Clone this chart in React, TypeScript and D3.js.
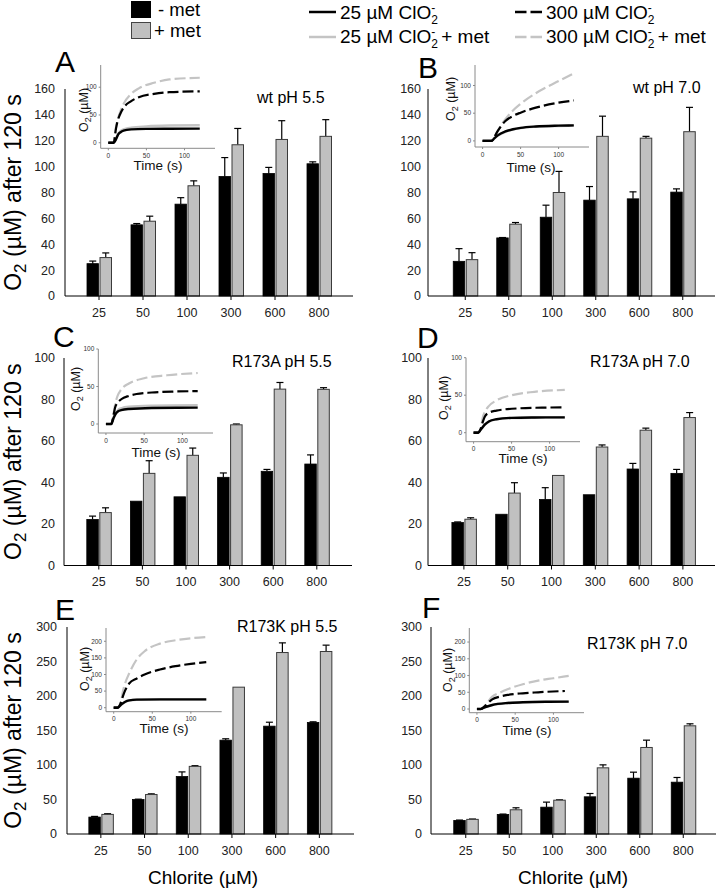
import React from "react";
import * as d3 from "d3";

type Pt = [number, number];

const FONT = "'Liberation Sans', Arial, Helvetica, sans-serif";

// ---------- data ----------
const categories = ["25", "50", "100", "300", "600", "800"];

// Panel A: wt pH 5.5
const aMinus = [25, 55, 71, 92.4, 94.7, 102.2];
const aMinusErr = [2, 1, 5, 14.6, 4.7, 1.5];
const aPlus = [29.7, 57.8, 85.2, 116.9, 121, 123.4];
const aPlusErr = [3.6, 3.9, 3.8, 12.6, 14.5, 12.9];
// Panel B: wt pH 7.0
const bMinus = [26.8, 44.9, 60.9, 74.1, 75.1, 80.3];
const bMinusErr = [9.8, 0.3, 9.3, 10.5, 5.4, 2.5];
const bPlus = [28.1, 55.5, 80, 123.4, 122, 127];
const bPlusErr = [5.4, 1.3, 16.3, 15.6, 1.4, 18.8];
// Panel C: R173A pH 5.5
const cMinus = [22.2, 31, 33.1, 42.5, 45.4, 48.9];
const cMinusErr = [1.6, 0.2, 0, 2.1, 0.9, 4.4];
const cPlus = [25.5, 44.4, 53.1, 67.8, 85, 84.9];
const cPlusErr = [2.3, 6.1, 3.5, 0.4, 3.2, 0.8];
// Panel D: R173A pH 7.0
const dMinus = [20.7, 24.7, 31.8, 34.1, 46.5, 44.4];
const dMinusErr = [0.3, 0, 5.7, 0, 2.7, 1.9];
const dPlus = [22.3, 34.9, 43.4, 57.1, 65.2, 71.3];
const dPlusErr = [0.7, 5, 0, 1, 1, 2.4];
// Panel E: R173K pH 5.5
const eMinus = [24.5, 50, 83.3, 136, 156.3, 161.6];
const eMinusErr = [1, 0.5, 6.7, 2, 5.7, 1];
const ePlus = [28.4, 57.2, 98, 212.8, 263, 264.5];
const ePlusErr = [1, 1, 1, 0, 14, 9.2];
// Panel F: R173K pH 7.0
const fMinus = [19.7, 28.4, 38.9, 53.9, 80.9, 75.1];
const fMinusErr = [0.5, 0.5, 7.3, 4.8, 8.7, 6.8];
const fPlus = [21.2, 35.1, 49, 95.9, 125.4, 156.8];
const fPlusErr = [0.5, 2.9, 0.5, 4.3, 10.6, 2.9];

const yTicksAB = [0, 20, 40, 60, 80, 100, 120, 140, 160];
const yTicksCD = [0, 20, 40, 60, 80, 100];
const yTicksEF = [0, 50, 100, 150, 200, 250, 300];

const insetXTicks = [0, 50, 100];
const insetYTicksSmall = [0, 50, 100];
const insetYTicksLarge = [0, 50, 100, 150, 200];

// inset time courses: [time (s), O2 (µM)]
const insA25: Pt[] = [[0, 0], [7, 0], [10, 6], [13, 15], [16, 19], [20, 22], [30, 24], [50, 25], [80, 25.3], [120, 25.5]];
const insA25met: Pt[] = [[0, 0], [7, 0], [10, 7], [13, 16], [16, 21], [20, 24], [30, 27], [50, 29.5], [80, 31], [120, 31.5]];
const insA300: Pt[] = [[0, 0], [7, 0], [10, 25], [12, 38], [15, 50], [20, 63], [30, 75], [40, 82], [60, 88], [80, 91], [120, 92.5]];
const insA300met: Pt[] = [[0, 0], [7, 0], [10, 28], [13, 45], [16, 57], [20, 70], [30, 88], [40, 98], [60, 108], [80, 114], [120, 117]];

const insB25: Pt[] = [[0, 0], [12, 0], [15, 4], [20, 10], [30, 17], [40, 21], [50, 23.5], [70, 26], [100, 27.5], [120, 28]];
const insB25met: Pt[] = [[0, 0], [12, 0], [15, 4], [20, 9.5], [30, 16.5], [40, 20.5], [50, 23], [70, 25.5], [100, 27], [120, 27.5]];
const insB300: Pt[] = [[0, 0], [12, 0], [15, 6], [20, 18], [25, 28], [30, 36], [40, 45], [50, 51], [70, 60], [100, 69], [120, 73]];
const insB300met: Pt[] = [[0, 0], [12, 0], [15, 6], [20, 18], [25, 30], [30, 39], [40, 55], [50, 67], [70, 86], [100, 108], [120, 122]];

const insC25: Pt[] = [[0, 0], [7, 0], [10, 8], [13, 14], [16, 17], [20, 18.5], [30, 20], [60, 21.3], [120, 21.8]];
const insC25met: Pt[] = [[0, 0], [7, 0], [10, 9], [13, 15], [16, 19], [20, 21], [30, 23], [60, 24.3], [120, 25]];
const insC300: Pt[] = [[0, 0], [7, 0], [10, 12], [12, 22], [15, 28], [20, 33], [30, 37.5], [40, 40], [60, 42], [90, 43.3], [120, 43.8]];
const insC300met: Pt[] = [[0, 0], [7, 0], [10, 14], [12, 26], [15, 37], [20, 46], [30, 54], [50, 61], [80, 65], [120, 68]];

const insD25: Pt[] = [[0, 0], [6, 0], [10, 5], [15, 11], [20, 15], [30, 18], [50, 19.8], [80, 20.3], [120, 20.5]];
const insD25met: Pt[] = [[0, 0], [6, 0], [10, 5], [15, 10.8], [20, 14.8], [30, 17.7], [50, 19.5], [80, 20], [120, 20.2]];
const insD300: Pt[] = [[0, 0], [6, 0], [10, 7], [12, 14], [15, 22], [20, 26.5], [30, 29.5], [40, 31], [60, 32.5], [90, 33.4], [120, 33.8]];
const insD300met: Pt[] = [[0, 0], [6, 0], [10, 8], [12, 20], [15, 28], [20, 35.5], [30, 43], [50, 50], [80, 54.5], [120, 57]];

const insE25: Pt[] = [[0, 0], [5, 0], [10, 10], [15, 18], [20, 22], [30, 24.5], [60, 25], [120, 25]];
const insE25met: Pt[] = [[0, 0], [5, 0], [10, 9.5], [15, 17.5], [20, 21.5], [30, 24], [60, 24.5], [120, 24.5]];
const insE300: Pt[] = [[0, 0], [5, 0], [10, 20], [12, 35], [15, 53], [20, 73], [30, 88], [40, 100], [60, 115], [80, 125], [100, 132], [120, 137]];
const insE300met: Pt[] = [[0, 0], [5, 0], [10, 25], [12, 50], [15, 75], [20, 103], [30, 146], [40, 170], [60, 193], [80, 203], [100, 209], [120, 213]];

const insF25: Pt[] = [[0, 0], [5, 0], [10, 5], [20, 12], [40, 18], [60, 20], [90, 21.5], [120, 22]];
const insF25met: Pt[] = [[0, 0], [5, 0], [10, 4.8], [20, 11.7], [40, 17.7], [60, 19.7], [90, 21.2], [120, 21.7]];
const insF300: Pt[] = [[0, 0], [5, 0], [10, 8], [20, 29], [30, 37], [40, 42], [60, 47], [80, 50], [115, 54]];
const insF300met: Pt[] = [[0, 0], [5, 0], [10, 9], [20, 37], [30, 49], [40, 59], [60, 74], [80, 85], [100, 92], [120, 99]];

// ---------- layout ----------
interface Layout {
  axisX: number; bandStart: number; step: number; axisEnd: number;
  y0: number; y1: number; labelRight: number;
  letter: { x: number; y: number }; title: { x: number; y: number };
  inset: { x0: number; x1: number; yt: number; yb: number; o2x: number; o2y: number; tx: number; ty: number };
}

const panels = [
  {
    letter: "A", title: "wt pH 5.5", minus: aMinus, minusErr: aMinusErr, plus: aPlus, plusErr: aPlusErr,
    yMax: 160, yTicks: yTicksAB, insYDomain: [-10, 140], insYTicks: insetYTicksSmall,
    curves: [insA25, insA25met, insA300, insA300met],
    layout: {
      axisX: 65, bandStart: 77, step: 44, axisEnd: 353, y0: 296, y1: 89, labelRight: 55,
      letter: { x: 55, y: 72 }, title: { x: 257, y: 103 },
      inset: { x0: 100.7, x1: 215, yt: 65, yb: 148.3, o2x: 88, o2y: 110, tx: 158, ty: 170 },
    },
  },
  {
    letter: "B", title: "wt pH 7.0", minus: bMinus, minusErr: bMinusErr, plus: bPlus, plusErr: bPlusErr,
    yMax: 160, yTicks: yTicksAB, insYDomain: [-11, 137], insYTicks: insetYTicksSmall,
    curves: [insB25, insB25met, insB300, insB300met],
    layout: {
      axisX: 428, bandStart: 443.5, step: 43.5, axisEnd: 715, y0: 296, y1: 89, labelRight: 421,
      letter: { x: 418, y: 78 }, title: { x: 633, y: 93 },
      inset: { x0: 475, x1: 589, yt: 65, yb: 147, o2x: 455, o2y: 99, tx: 531, ty: 172 },
    },
  },
  {
    letter: "C", title: "R173A pH 5.5", minus: cMinus, minusErr: cMinusErr, plus: cPlus, plusErr: cPlusErr,
    yMax: 100, yTicks: yTicksCD, insYDomain: [-12, 100], insYTicks: insetYTicksSmall,
    curves: [insC25, insC25met, insC300, insC300met],
    layout: {
      axisX: 64, bandStart: 77, step: 43.6, axisEnd: 352, y0: 565.5, y1: 358, labelRight: 55,
      letter: { x: 53, y: 347 }, title: { x: 232, y: 367 },
      inset: { x0: 98.3, x1: 213, yt: 349, yb: 433, o2x: 80, o2y: 389, tx: 156, ty: 457 },
    },
  },
  {
    letter: "D", title: "R173A pH 7.0", minus: dMinus, minusErr: dMinusErr, plus: dPlus, plusErr: dPlusErr,
    yMax: 100, yTicks: yTicksCD, insYDomain: [-12, 100], insYTicks: insetYTicksSmall,
    curves: [insD25, insD25met, insD300, insD300met],
    layout: {
      axisX: 428, bandStart: 442, step: 43.8, axisEnd: 715, y0: 565.5, y1: 358, labelRight: 422,
      letter: { x: 417, y: 348 }, title: { x: 590, y: 367 },
      inset: { x0: 466, x1: 580, yt: 357.7, yb: 441.7, o2x: 448, o2y: 398, tx: 523, ty: 463 },
    },
  },
  {
    letter: "E", title: "R173K pH 5.5", minus: eMinus, minusErr: eMinusErr, plus: ePlus, plusErr: ePlusErr,
    yMax: 300, yTicks: yTicksEF, insYDomain: [-12, 240], insYTicks: insetYTicksLarge,
    curves: [insE25, insE25met, insE300, insE300met],
    layout: {
      axisX: 67, bandStart: 79, step: 43.7, axisEnd: 354, y0: 834, y1: 627, labelRight: 57,
      letter: { x: 55, y: 620 }, title: { x: 237, y: 632 },
      inset: { x0: 106, x1: 221.7, yt: 628, yb: 711.7, o2x: 89, o2y: 669, tx: 164, ty: 733 },
    },
  },
  {
    letter: "F", title: "R173K pH 7.0", minus: fMinus, minusErr: fMinusErr, plus: fPlus, plusErr: fPlusErr,
    yMax: 300, yTicks: yTicksEF, insYDomain: [-11, 242], insYTicks: insetYTicksLarge,
    curves: [insF25, insF25met, insF300, insF300met],
    layout: {
      axisX: 431, bandStart: 444, step: 43.5, axisEnd: 716, y0: 834, y1: 627, labelRight: 422,
      letter: { x: 422, y: 618 }, title: { x: 587, y: 649 },
      inset: { x0: 469.3, x1: 584, yt: 628, yb: 712.7, o2x: 452, o2y: 670, tx: 527, ty: 735 },
    },
  },
];

const GRAY_BAR = "#c0c0c0";
const GRAY_LINE = "#c4c4c4";

function Inset({ L, yDomain, yTicks, curves }: { L: Layout["inset"]; yDomain: number[]; yTicks: number[]; curves: Pt[][] }) {
  const x = d3.scaleLinear().domain([-10, 140]).range([L.x0, L.x1]);
  const y = d3.scaleLinear().domain(yDomain).range([L.yb, L.yt]);
  const line = d3.line<Pt>().x((d) => x(d[0])).y((d) => y(d[1])).curve(d3.curveMonotoneX);
  const [c25, c25m, c300, c300m] = curves;
  return (
    <g>
      <path d={line(c300m) || ""} fill="none" stroke={GRAY_LINE} strokeWidth={2.2} strokeDasharray="11,4" />
      <path d={line(c25m) || ""} fill="none" stroke={GRAY_LINE} strokeWidth={2.4} />
      <path d={line(c300) || ""} fill="none" stroke="#000" strokeWidth={2.2} strokeDasharray="11,4" />
      <path d={line(c25) || ""} fill="none" stroke="#000" strokeWidth={2.4} />
      <line x1={L.x0} x2={L.x0} y1={L.yt} y2={L.yb} stroke="#8a8a8a" strokeWidth={1} />
      <line x1={L.x0} x2={L.x1} y1={L.yb} y2={L.yb} stroke="#8a8a8a" strokeWidth={1} />
      {yTicks.map((t) => (
        <g key={"y" + t}>
          <line x1={L.x0 - 2} x2={L.x0} y1={y(t)} y2={y(t)} stroke="#8a8a8a" />
          <text x={L.x0 - 4} y={y(t)} dy="0.35em" textAnchor="end" fontSize={6.5} fill="#333">{t}</text>
        </g>
      ))}
      {insetXTicks.map((t) => (
        <g key={"x" + t}>
          <line x1={x(t)} x2={x(t)} y1={L.yb} y2={L.yb + 2} stroke="#8a8a8a" />
          <text x={x(t)} y={L.yb + 9.5} textAnchor="middle" fontSize={6.5} fill="#333">{t}</text>
        </g>
      ))}
      <text transform={`translate(${L.o2x},${L.o2y}) rotate(-90)`} textAnchor="middle" fontSize={12.5} fill="#111">
        O<tspan fontSize={9} dy={3}>2</tspan><tspan dy={-3}> (µM)</tspan>
      </text>
      <text x={L.tx} y={L.ty} textAnchor="middle" fontSize={13.5} fill="#111">Time (s)</text>
    </g>
  );
}

function Panel({ p }: { p: (typeof panels)[number] }) {
  const L = p.layout as Layout;
  const x = d3.scaleBand<string>().domain(categories).range([L.bandStart, L.bandStart + L.step * categories.length]).padding(0);
  const y = d3.scaleLinear().domain([0, p.yMax]).range([L.y0, L.y1]);
  const cx = (c: string) => (x(c) as number) + x.bandwidth() / 2;
  const bw = 11.5;
  return (
    <g>
      {categories.map((c, i) => {
        const m = p.minus[i], me = p.minusErr[i], pl = p.plus[i], pe = p.plusErr[i];
        const xm = cx(c) - bw - 0.5;
        const xp = cx(c) + 1;
        return (
          <g key={c}>
            {me > 0.2 && (
              <g stroke="#000" strokeWidth={1.2}>
                <line x1={xm + bw / 2} x2={xm + bw / 2} y1={y(m)} y2={y(m + me)} />
                <line x1={xm + bw / 2 - 3.5} x2={xm + bw / 2 + 3.5} y1={y(m + me)} y2={y(m + me)} />
              </g>
            )}
            {pe > 0.2 && (
              <g stroke="#000" strokeWidth={1.2}>
                <line x1={xp + bw / 2} x2={xp + bw / 2} y1={y(pl)} y2={y(pl + pe)} />
                <line x1={xp + bw / 2 - 3.5} x2={xp + bw / 2 + 3.5} y1={y(pl + pe)} y2={y(pl + pe)} />
              </g>
            )}
            <rect x={xm} y={y(m)} width={bw} height={L.y0 - y(m)} fill="#000" stroke="#000" strokeWidth={0.8} />
            <rect x={xp} y={y(pl)} width={bw} height={L.y0 - y(pl)} fill={GRAY_BAR} stroke="#3a3a3a" strokeWidth={1} />
            <line x1={cx(c)} x2={cx(c)} y1={L.y0} y2={L.y0 + 4} stroke="#000" />
            <text x={cx(c)} y={L.y0 + 20.5} textAnchor="middle" fontSize={12.5} fill="#222">{c}</text>
          </g>
        );
      })}
      <line x1={L.axisX} x2={L.axisX} y1={L.y1} y2={L.y0} stroke="#000" strokeWidth={1} />
      <line x1={L.axisX} x2={L.axisEnd} y1={L.y0} y2={L.y0} stroke="#000" strokeWidth={1} />
      {p.yTicks.map((t) => (
        <text key={t} x={L.labelRight} y={y(t)} dy="0.35em" textAnchor="end" fontSize={12.5} fill="#222">{t}</text>
      ))}
      <text x={L.letter.x} y={L.letter.y} fontSize={30} fill="#000">{p.letter}</text>
      <text x={L.title.x} y={L.title.y} fontSize={16} fill="#000">{p.title}</text>
      <Inset L={L.inset} yDomain={p.insYDomain} yTicks={p.insYTicks} curves={p.curves} />
    </g>
  );
}

function ClO2Text({ x, y, prefix, suffix }: { x: number; y: number; prefix: string; suffix?: string }) {
  return (
    <text x={x} y={y} fontSize={19} fill="#000">
      {prefix}ClO<tspan fontSize={12} dy={5}>2</tspan><tspan fontSize={12} dx={-6.7} dy={-12}>-</tspan>
      {suffix ? <tspan fontSize={19} dx={6} dy={7}>{suffix}</tspan> : null}
    </text>
  );
}

export default function App() {
  const rowLabelY = [192.5, 461.7, 730.5];
  return (
    <svg width={720} height={892} style={{ position: "absolute", left: 0, top: 0, background: "#fff" }} fontFamily={FONT}>
      <rect x={0} y={0} width={720} height={892} fill="#fff" />
      {/* bar legend */}
      <rect x={131} y={1} width={20} height={17} fill="#000" />
      <text x={158} y={16} fontSize={18.5}>- met</text>
      <rect x={131.5} y={22.5} width={19} height={16} fill={GRAY_BAR} stroke="#444" strokeWidth={1} />
      <text x={154} y={37} fontSize={18.5}>+ met</text>
      {/* line legend */}
      <line x1={309} x2={336} y1={12} y2={12} stroke="#000" strokeWidth={2.5} />
      <ClO2Text x={340} y={19} prefix="25 µM " />
      <line x1={515} x2={542} y1={12} y2={12} stroke="#000" strokeWidth={2.5} strokeDasharray="11.5,4" />
      <ClO2Text x={546} y={19} prefix="300 µM " />
      <line x1={309} x2={336} y1={37} y2={37} stroke={GRAY_LINE} strokeWidth={2.5} />
      <ClO2Text x={340} y={43} prefix="25 µM " suffix="+ met" />
      <line x1={515} x2={542} y1={37} y2={37} stroke={GRAY_LINE} strokeWidth={2.5} strokeDasharray="11.5,4" />
      <ClO2Text x={546} y={43} prefix="300 µM " suffix="+ met" />

      {panels.map((p) => (
        <Panel key={p.letter} p={p} />
      ))}

      {rowLabelY.map((cy, i) => (
        <text key={i} transform={`translate(21,${cy}) rotate(-90)`} textAnchor="middle" fontSize={23} fill="#000">
          O<tspan fontSize={17} dy={5}>2</tspan><tspan dy={-5}> (µM) after 120 s</tspan>
        </text>
      ))}
      <text x={203} y={884} textAnchor="middle" fontSize={19}>Chlorite (µM)</text>
      <text x={573} y={884} textAnchor="middle" fontSize={19}>Chlorite (µM)</text>
    </svg>
  );
}
